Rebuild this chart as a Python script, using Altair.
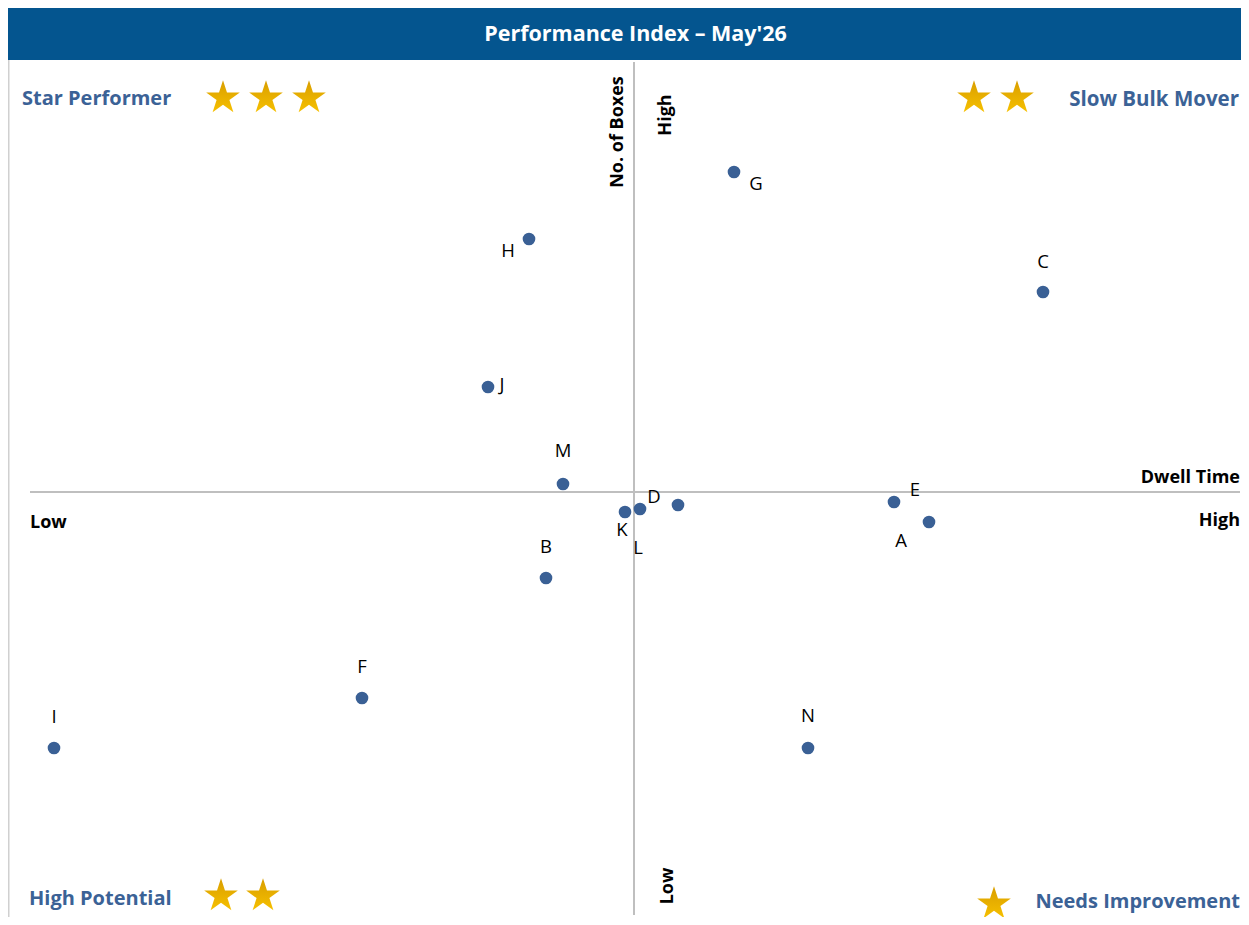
import altair as alt
import pandas as pd

# ---- data ----
labels = ["A", "B", "C", "D", "E", "F", "G", "H", "I", "J", "K", "L", "M", "N"]
dwell_time = [29.5, -8.8, 40.9, 4.4, 26.0, -27.2, 10.0, -10.5, -58.0, -14.6, -0.9, 0.6, -7.1, 17.4]
no_of_boxes = [-3.0, -8.6, 20.0, -1.3, -1.0, -20.6, 32.0, 25.3, -25.6, 10.5, -2.0, -1.7, 0.8, -25.6]

# label placement (offset in px from the point), like Excel data-label positions
label_offset = {
    "A": (-28, 19), "B": (0, -31), "C": (0, -30), "D": (-24, -8), "E": (21, -12),
    "F": (0, -31), "G": (22, 12), "H": (-21, 12), "I": (0, -31), "J": (14, -2),
    "K": (-3, 18), "L": (-2, 39), "M": (0, -33), "N": (0, -32),
}

quadrants = ["Star Performer", "Slow Bulk Mover", "High Potential", "Needs Improvement"]
quadrant_stars = [3, 2, 2, 1]

title_text = "Performance Index \u2013 May'26"

df = pd.DataFrame({"label": labels, "dwell": dwell_time, "boxes": no_of_boxes})

W, H = 1233, 909
FONT = "Open Sans"
BLUE = "#04558F"
QCOL = "#3B6296"
PT = "#3A6095"
AXIS = "#BFBFBF"
GOLD = {"gradient": "linear", "x1": 0, "y1": 0, "x2": 0, "y2": 1,
        "stops": [{"offset": 0, "color": "#D99E00"}, {"offset": 1, "color": "#F6C000"}]}

X0 = -62.6
X1 = X0 + W / 10.0
Y1 = 48.4
Y0 = Y1 - H / 10.0
xs = alt.Scale(domain=[X0, X1], nice=False, zero=False)
ys = alt.Scale(domain=[Y0, Y1], nice=False, zero=False)


def ux(px):
    return X0 + (X1 - X0) * px / W


def uy(py):
    return Y1 - (Y1 - Y0) * py / H


def XQ(f="x"):
    return alt.X(f"{f}:Q", scale=xs, axis=None)


def YQ(f="y"):
    return alt.Y(f"{f}:Q", scale=ys, axis=None)


base = alt.Chart(df)

points = base.mark_circle(size=160, color=PT, opacity=1).encode(
    x=XQ("dwell"), y=YQ("boxes"))

label_layers = []
for lab in labels:
    ddx, ddy = label_offset[lab]
    label_layers.append(
        base.transform_filter(alt.datum.label == lab)
        .mark_text(font=FONT, fontSize=18.5, color="#000000", dx=ddx, dy=ddy,
                   align="center", baseline="middle")
        .encode(x=XQ("dwell"), y=YQ("boxes"), text="label:N")
    )

hline = alt.Chart(pd.DataFrame({"x": [ux(22)], "x2": [ux(1232)], "y": [0.0]})).mark_rule(
    color=AXIS, strokeWidth=2).encode(x=XQ("x"), x2="x2:Q", y=YQ("y"))
vline = alt.Chart(pd.DataFrame({"x": [0.0], "y": [uy(54)], "y2": [uy(907)]})).mark_rule(
    color=AXIS, strokeWidth=2).encode(x=XQ("x"), y=YQ("y"), y2="y2:Q")
leftline = alt.Chart(pd.DataFrame({"x": [ux(0.75)], "y": [uy(52)], "y2": [Y0]})).mark_rule(
    color="#D0D0D0", strokeWidth=1.5).encode(x=XQ("x"), y=YQ("y"), y2="y2:Q")

bar = alt.Chart(pd.DataFrame({"x": [X0], "x2": [X1], "y": [Y1], "y2": [uy(52)]})).mark_rect(
    color=BLUE).encode(x=XQ("x"), x2="x2:Q", y=YQ("y"), y2="y2:Q")


def txt(s, px, py, align="left", size=18, color="#000000", angle=0):
    kw = dict(font=FONT, fontSize=size, fontWeight="bold", color=color,
              align=align, baseline="middle")
    if angle:
        kw["angle"] = angle
    d = pd.DataFrame({"x": [ux(px)], "y": [uy(py)], "t": [s]})
    return alt.Chart(d).mark_text(**kw).encode(x=XQ("x"), y=YQ("y"), text="t:N")


title = txt(title_text, 627.5, 27, "center", 21.5, "#FFFFFF")

axis_texts = [
    txt("Dwell Time", 1232, 470, "right"),
    txt("High", 1232, 513, "right"),
    txt("Low", 22, 515, "left"),
    txt("No. of Boxes", 610, 124, "center", angle=270),
    txt("High", 658, 107, "center", angle=270),
    txt("Low", 660, 878, "center", angle=270),
]

q_texts = [
    txt(quadrants[0], 14, 91, "left", 20, QCOL),
    txt(quadrants[1], 1231, 92, "right", 20.5, QCOL),
    txt(quadrants[2], 21, 891, "left", 20, QCOL),
    txt(quadrants[3], 1232, 894, "right", 20, QCOL),
]

STAR = ("M0,-1L0.2245,-0.309L0.951,-0.309L0.363,0.118L0.588,0.809L0,0.382"
        "L-0.588,0.809L-0.363,0.118L-0.951,-0.309L-0.2245,-0.309Z")

star_anchor = [(215, 90, 43), (1009, 90, -43), (213, 888, 42), (986, 896, 0)]
sx_list, sy_list = [], []
for (sx, sy, step), n in zip(star_anchor, quadrant_stars):
    for i in range(n):
        sx_list.append(ux(sx + i * step))
        sy_list.append(uy(sy))
stars = alt.Chart(pd.DataFrame({"x": sx_list, "y": sy_list})).mark_point(
    shape=STAR, filled=True, color=GOLD, size=1250, opacity=1).encode(
    x=XQ("x"), y=YQ("y"))

chart = alt.layer(
    bar, title, leftline, hline, vline, *axis_texts, *q_texts, stars,
    points, *label_layers,
).properties(
    width=W, height=H, padding=0, autosize=alt.AutoSizeParams(type="none"),
).configure_view(stroke=None)

chart.save("out.html", embed_options={"renderer": "svg", "actions": False})
